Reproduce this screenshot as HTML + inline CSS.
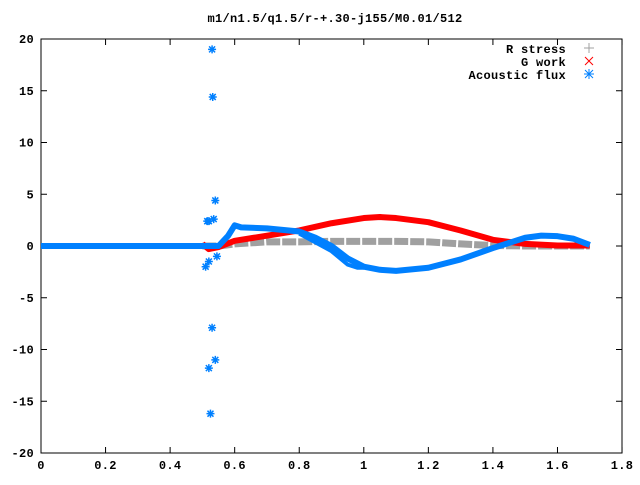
<!DOCTYPE html>
<html><head><meta charset="utf-8"><style>
body{margin:0;background:#fff}
svg text{font-family:"Liberation Mono",monospace;font-size:12px;font-weight:bold;fill:#000;letter-spacing:0.3px}
</style></head><body>
<svg width="640" height="480" xmlns="http://www.w3.org/2000/svg">
<text x="335" y="22" text-anchor="middle">m1/n1.5/q1.5/r-+.30-j155/M0.01/512</text>
<rect x="41" y="39" width="581" height="414" fill="none" stroke="#000"/>
<g id="axes"></g>
<g id="series"></g>
<g>
<text x="566" y="53" text-anchor="end">R stress</text>
<text x="566" y="66" text-anchor="end">G work</text>
<text x="566" y="79" text-anchor="end">Acoustic flux</text>
<path d="M584 48h10M589 43v10" stroke="#a0a0a0"/>
<path d="M585 57l8 8M593 57l-8 8" stroke="#f00"/>
<path d="M584 74h10M589 69v10M585 70l8 8M593 70l-8 8" stroke="#0080ff"/>
</g>
</svg>
<script>
const xTicks=[0,0.2,0.4,0.6,0.8,1,1.2,1.4,1.6,1.8];
const yTicks=[-20,-15,-10,-5,0,5,10,15,20];
const rX=[0.5,0.55,0.6,0.7,0.8,0.9,1.0,1.1,1.2,1.3,1.4,1.5,1.7];
const rY=[0,0,0.2,0.4,0.4,0.45,0.45,0.45,0.4,0.2,0.05,0,0];
const gX=[0.5,0.52,0.55,0.6,0.7,0.8,0.9,1.0,1.05,1.1,1.2,1.3,1.4,1.5,1.6,1.7];
const gY=[0.2,-0.3,-0.1,0.5,1.0,1.5,2.2,2.7,2.8,2.7,2.3,1.5,0.6,0.2,0.05,0.05];
const aX=[0,0.51,0.55,0.58,0.6,0.62,0.7,0.8,0.85,0.9,0.95,1.0,1.05,1.1,1.2,1.3,1.4,1.5,1.55,1.6,1.65,1.7];
const aY=[0,0,0,1,2,1.8,1.7,1.4,0.8,0,-1.2,-2,-2.3,-2.4,-2.1,-1.3,-0.2,0.8,1.0,0.95,0.7,0.1];
const loopX=[0.8,0.9,0.95,0.98,1.0];
const loopY=[1.2,-0.5,-1.8,-2.1,-2.1];
const spikeX=[0.53,0.532,0.54,0.535,0.515,0.52,0.53,0.54,0.52,0.525,0.51,0.52,0.545];
const spikeY=[19,14.4,4.4,2.6,2.4,2.4,-7.9,-11,-11.8,-16.2,-2,-1.5,-1];
const px=x=>41+x*322.8, py=y=>246-y*10.35;
const NS="http://www.w3.org/2000/svg";
const axes=document.getElementById('axes'), ser=document.getElementById('series');
function mk(t,a,p){const e=document.createElementNS(NS,t);for(const k in a)e.setAttribute(k,a[k]);p.appendChild(e);return e;}
xTicks.forEach(v=>{const x=px(v);
 const l=mk('path',{d:`M${x} 453v-6M${x} 39v6`,stroke:'#000'},axes);
 
 
 const t=mk('text',{x:x,y:469,'text-anchor':'middle'},axes);t.textContent=String(v);
 
 });
yTicks.forEach(v=>{const y=py(v);
 const l=mk('path',{d:`M41 ${y}h6M622 ${y}h-6`,stroke:'#000'},axes);
 
 
 const t=mk('text',{x:34,y:y+4,'text-anchor':'end'},axes);t.textContent=String(v);
 
 });
function line(X,Y,col,w,dash,name){
 const d=X.map((x,i)=>(i?'L':'M')+px(x)+' '+py(Y[i])).join('');
 const a={d:d,stroke:col,'stroke-width':w,fill:'none','stroke-linejoin':'round'};
 if(dash)a['stroke-dasharray']=dash;
 const e=mk('path',a,ser);
 
 }
line(rX,rY,'#a0a0a0',7,'14 2','r-stress-series');
line(gX,gY,'#f00',6,null,'g-work-series');
line(aX,aY,'#0080ff',6,null,'acoustic-flux-series');
line(loopX,loopY,'#0080ff',4,null,'acoustic-flux-loop');
spikeX.forEach((x,i)=>{const cx=px(x),cy=py(spikeY[i]);
 const e=mk('path',{d:`M${cx-4} ${cy}h8M${cx} ${cy-4}v8M${cx-3} ${cy-3}l6 6M${cx+3} ${cy-3}l-6 6`,stroke:'#0080ff','stroke-width':1.5},ser);
 
 });
</script>
</body></html>
